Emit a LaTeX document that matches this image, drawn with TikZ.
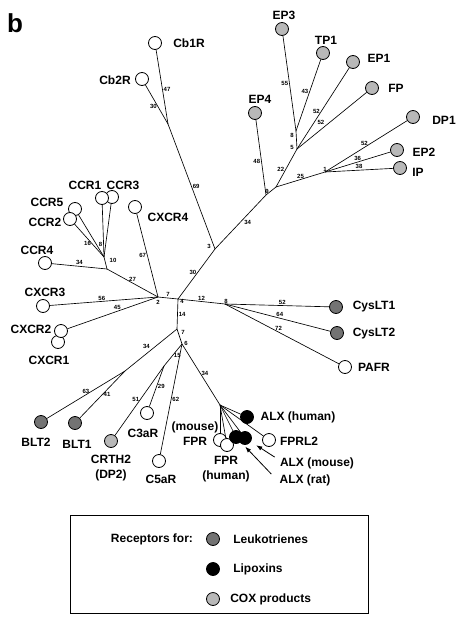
\documentclass[tikz,border=0pt]{standalone}
\usepackage{fontspec}
\setmainfont{Liberation Sans}
\usetikzlibrary{arrows.meta}
\definecolor{ltgray}{gray}{0.45}
\definecolor{coxgray}{gray}{0.72}
\tikzset{
    rec/.style={circle,draw,fill=white,line width=0.8pt,minimum size=13pt,inner sep=0pt},
    txt/.style={font=\fontsize{12}{15}\selectfont\bfseries,inner sep=0pt,align=center},
    bl/.style={font=\fontsize{6}{7}\selectfont\bfseries,inner sep=1pt},
    pointer/.style={-{Latex[length=6pt,width=4.5pt]},line width=0.8pt,shorten >=6.5pt},
}
\begin{document}
\begin{tikzpicture}[x=1pt,y=-1pt,line width=0.65pt]
    \useasboundingbox (0,0) rectangle (456,624);
    \node[font=\fontsize{26}{26}\selectfont\bfseries] (panel) at (15,23) {b};

    % branch points
    \coordinate (hubL) at (158,297);
    \coordinate (hubR) at (178,299);
    \coordinate (J3) at (215,249);
    \coordinate (Jcb) at (168,124);
    \coordinate (Jep4) at (266,195);
    \coordinate (Ja) at (276,187);
    \coordinate (J5) at (297,149);
    \coordinate (Jet) at (296,131);
    \coordinate (J1) at (325,172);
    \coordinate (Jcc) at (107,269);
    \coordinate (Jc8) at (104,257);
    \coordinate (C8) at (225,304);
    \coordinate (Jd) at (177,329);
    \coordinate (J6) at (182,344);
    \coordinate (Jblt) at (125,371);
    \coordinate (J15) at (164,366);
    \coordinate (Jf) at (220,405);

    % receptors
    \foreach \n/\x/\y/\c in {Cb1R/155/43/white, Cb2R/142/79/white,
        EP3/282/29/coxgray, TP1/323/53/coxgray, EP1/353/62/coxgray, FP/372/88/coxgray,
        DP1/413/117/coxgray, EP2/397/150/coxgray, IP/400/168/coxgray, EP4/255/113/coxgray,
        CCR3/112/197/white, CCR1/102/198/white, CCR5/75/209/white, CCR2/70/219/white,
        CXCR4/135/207/white, CCR4/45/263/white, CXCR3/43/306/white, CXCR1/58/342/white,
        CXCR2/61/331/white, CysLT1/336/307/ltgray, CysLT2/337/333/ltgray, PAFR/345/367/white,
        BLT2/41/422/ltgray, BLT1/75/423/ltgray, CRTH2/111/441/coxgray, C3aR/147/413/white,
        C5aR/159/461/white, FPRm/220/440/white, FPRh/227/445/white, ALXr/236/437/black,
        ALXm/245/438/black, ALXh/247/417/black, FPRL2/269/440/white}{
        \node[rec,fill=\c] (\n) at (\x,\y) {};
    }

    % receptor names
    \foreach \n/\x/\y/\t in {Cb1R/189/43/Cb1R, Cb2R/115/80/Cb2R, EP3/284/15/EP3,
        TP1/326/40/TP1, EP1/379/58/EP1, FP/396/88/FP, DP1/444/120/DP1, EP2/424/152/EP2,
        IP/418/172/IP, EP4/260/99/EP4, CCR1/85/185/CCR1, CCR3/123/185/CCR3,
        CCR5/47/202/CCR5, CCR2/45/222/CCR2, CXCR4/168/217/CXCR4, CCR4/37/250/CCR4,
        CXCR3/45/292/CXCR3, CXCR2/31/329/CXCR2, CXCR1/49/360/CXCR1,
        CysLT1/374/307/CysLT1, CysLT2/374/334/CysLT2, PAFR/374/367/PAFR,
        BLT2/36/442/BLT2, BLT1/77/444/BLT1, CRTH2/111/468/{CRTH2\\(DP2)},
        C3aR/143/433/C3aR, C5aR/161/479/C5aR, FPRm/195/434/{(mouse)\\FPR},
        FPRh/226/469/{FPR\\(human)}, ALXh/298/417/ALX (human), FPRL2/299/441/FPRL2,
        ALXm/317/463/ALX (mouse), ALXr/305/480/ALX (rat)}{
        \node[txt] (\n-t) at (\x,\y) {\t};
    }

    % prostanoid and cannabinoid branches
    \draw (J3) -- (Jcb) node[bl,pos=.5,right] (l69) {69};
    \draw (Jcb) -- (Cb1R) node[bl,pos=.47,right] (l47) {47};
    \draw (Jcb) -- (Cb2R) node[bl,pos=.44,left] (l30a) {30};
    \draw (hubR) -- (J3) node[bl,pos=.53,left] (l30b) {30};
    \draw (J3) -- (Jep4) node[bl,pos=.55,below right] (l34a) {34};
    \draw (Jep4) -- (Ja);
    \draw (Jep4) -- (EP4) node[bl,pos=.45,left] (l48) {48};
    \draw (Ja) -- (J5) node[bl,pos=.45,left] (l22) {22};
    \draw (J5) -- (Jet);
    \draw (Jet) -- (EP3) node[bl,pos=.5,left] (l55) {55};
    \draw (Jet) -- (TP1) node[bl,pos=.55,left] (l43) {43};
    \draw (J5) -- (EP1) node[bl,pos=.46,left] (l52a) {52};
    \draw (J5) -- (FP) node[bl,pos=.41,above left] (l52b) {52};
    \draw (Ja) -- (J1) node[bl,pos=.5,above] (l25) {25};
    \draw (J1) -- (DP1) node[bl,pos=.48,above] (l52c) {52};
    \draw (J1) -- (EP2) node[bl,pos=.5,above] (l36) {36};
    \draw (J1) -- (IP) node[bl,pos=.5,above] (l38) {38};

    % chemokine branches
    \draw (hubL) -- (hubR) node[bl,pos=.5,above] (l7a) {7};
    \draw (hubL) -- (CXCR4) node[bl,pos=.5,left] (l67) {67};
    \draw (hubL) -- (Jcc) node[bl,pos=.5,above] (l27) {27};
    \draw (Jcc) -- (CCR4) node[bl,pos=.5,above] (l34b) {34};
    \draw (Jcc) -- (Jc8);
    \draw (Jc8) -- (CCR2) node[bl,pos=.4,left] (l16) {16};
    \draw (Jc8) -- (CCR5);
    \draw (Jc8) -- (CCR1) node[bl,pos=.25,left] (l8a) {8};
    \draw (Jc8) -- (CCR3);
    \draw (hubL) -- (CXCR3) node[bl,pos=.52,above] (l56) {56};
    \draw (hubL) -- (CXCR2) node[bl,pos=.45,above] (l45) {45};

    % lipid and peptide branches
    \draw (hubR) -- (C8) node[bl,pos=.5,above] (l12) {12};
    \draw (C8) -- (CysLT1) node[bl,pos=.55,above] (l52d) {52};
    \draw (C8) -- (CysLT2) node[bl,pos=.52,above] (l64) {64};
    \draw (C8) -- (PAFR) node[bl,pos=.47,above] (l72) {72};
    \draw (hubR) -- (Jd) node[bl,pos=.5,right] (l14) {14};
    \draw (Jd) -- (J6);
    \draw (Jd) -- (Jblt) node[bl,pos=.5,above left] (l34c) {34};
    \draw (Jblt) -- (BLT2) node[bl,pos=.5,above] (l63) {63};
    \draw (Jblt) -- (BLT1) node[bl,pos=.5,right] (l41) {41};
    \draw (J6) -- (J15) node[bl,pos=.5,anchor=west,inner sep=.6pt] (l15) {15};
    \draw (J15) -- (C3aR) node[bl,pos=.5,right] (l29) {29};
    \draw (J15) -- (CRTH2) node[bl,pos=.48,left] (l51) {51};
    \draw (J6) -- (C5aR) node[bl,pos=.5,right] (l62) {62};
    \draw (J6) -- (Jf) node[bl,pos=.48,right] (l34d) {34};
    \foreach \n in {FPRm,FPRh,ALXr,ALXm,ALXh,FPRL2}{
        \draw (Jf) -- (\n);
    }

    % values at branch points
    \node[bl] (l3) at (209,246) {3};
    \node[bl] (l2) at (158,302) {2};
    \node[bl] (l4) at (182,301) {4};
    \node[bl] (l8b) at (226,301) {8};
    \node[bl] (l7b) at (183,332) {7};
    \node[bl] (l6) at (186,343) {6};
    \node[bl] (l10) at (113,260) {10};
    \node[bl] (l9) at (267,191) {9};
    \node[bl] (l5) at (292,147) {5};
    \node[bl] (l8c) at (292,135) {8};
    \node[bl] (l1) at (325,169) {1};

    \draw[pointer] ([xshift=-5pt]ALXm-t.north west) -- (ALXm);
    \draw[pointer] ([xshift=-8pt]ALXr-t.north west) -- (ALXr);

    % key
    \draw[line width=0.9pt] (70,515) rectangle (368,613);
    \node[txt] (rfor) at (152,539) {Receptors for:};
    \foreach \k/\y/\c/\x/\t in {LT/539/ltgray/233/Leukotrienes, LX/569/black/233/Lipoxins,
        COX/599/coxgray/230/COX products}{
        \node[rec,fill=\c] (k\k) at (213,\y) {};
        \node[txt,anchor=west] (t\k) at (\x,\y) {\t};
    }
\end{tikzpicture}
\end{document}
